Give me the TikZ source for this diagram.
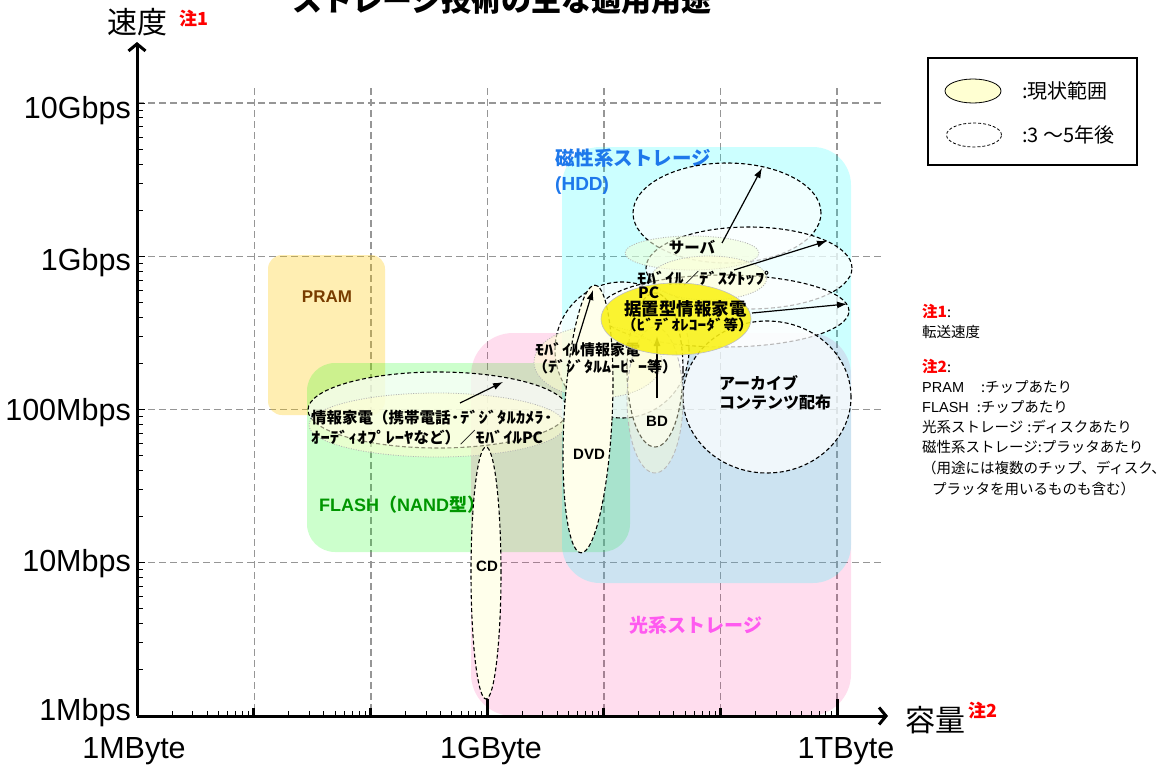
\documentclass[tikz,border=0pt]{standalone}
\usepackage{fontspec}
\setmainfont{Liberation Sans}
\newfontfamily\jp{Noto Sans CJK JP}
\newfontfamily\jph[FakeStretch=1.2]{Noto Sans CJK JP}
\newcommand\hk[1]{{\jph #1}}
\usetikzlibrary{shapes.geometric,arrows.meta}
\definecolor{pramc}{RGB}{255,200,0}
\definecolor{flashc}{RGB}{0,255,0}
\definecolor{optc}{RGB}{255,0,128}
\definecolor{hddc}{RGB}{0,255,255}
\definecolor{ivoryc}{RGB}{255,255,210}
\definecolor{discc}{RGB}{255,255,235}
\definecolor{yelc}{RGB}{250,242,20}
\definecolor{gridc}{RGB}{150,150,150}
\definecolor{hddtxt}{RGB}{30,120,235}
\definecolor{opttxt}{RGB}{255,90,240}
\definecolor{flashtxt}{RGB}{0,150,0}
\definecolor{pramtxt}{RGB}{120,60,0}
\definecolor{notered}{RGB}{255,0,0}
\begin{document}
\begin{tikzpicture}[x=1pt,y=-1pt,
  gridline/.style={draw=gridc, line width=1.1pt, dash pattern=on 7pt off 4pt},
  region/.style={rectangle, inner sep=0, draw=none},
  fut/.style={ellipse, inner sep=0, draw=black, line width=1.1pt, dash pattern=on 4pt off 2.5pt, fill=white, fill opacity=0.72},
  cur/.style={ellipse, inner sep=0, draw=gray!60, line width=0.8pt, dash pattern=on 1pt off 1.5pt, fill=ivoryc, fill opacity=0.55},
  disc/.style={ellipse, inner sep=0, draw=black, line width=1.1pt, dash pattern=on 4pt off 2.5pt, fill=discc},
  conn/.style={draw=black, line width=1.2pt, -{Latex[length=10pt,width=7pt]}},
  lab/.style={font=\jp\bfseries\fontsize{15.5}{17}\selectfont, inner sep=0, anchor=base west},
  lat/.style={font=\bfseries\fontsize{15}{17}\selectfont, inner sep=0, anchor=base},
  axl/.style={font=\fontsize{30.5}{33}\selectfont, inner sep=0},
  note/.style={font=\fontsize{14.5}{17}\selectfont, inner sep=0, anchor=base west},
  legt/.style={font=\jp\fontsize{20}{22}\selectfont, inner sep=0, anchor=base west},
  minort/.style={draw=black, line width=0.9pt},
  majort/.style={draw=black, line width=3pt}
]
\useasboundingbox (0,0) rectangle (1175,771);
\fill[white] (0,0) rectangle (1175,771);

% ---------- grid ----------
\foreach \yy in {103,256.25,409.5,562.75} \draw[gridline] (137,\yy) -- (882,\yy);
\foreach \xx in {254.5,371,487.5,604,720.5,837} \draw[gridline] (\xx,88) -- (\xx,716);

% ---------- regions ----------
\node[region, fill=pramc, fill opacity=0.3, rounded corners=14pt, minimum width=117pt, minimum height=160pt] (pram) at (326.5,335) {};
\node[region, fill=flashc, fill opacity=0.2, rounded corners=28pt, minimum width=323pt, minimum height=189pt] (flash) at (468.5,457.5) {};
\node[region, fill=optc, fill opacity=0.133, rounded corners=42pt, minimum width=380pt, minimum height=383pt] (opt) at (661,524.5) {};
\node[region, fill=hddc, fill opacity=0.2, rounded corners=38pt, minimum width=289pt, minimum height=436pt] (hdd) at (706.5,365) {};

\node[font=\bfseries\fontsize{17}{19}\selectfont, text=pramtxt, inner sep=0, anchor=base] (lpram) at (327,302) {PRAM};
\node[font=\bfseries\fontsize{18}{20}\selectfont, text=flashtxt, inner sep=0, anchor=base west] (lflash) at (319,511) {FLASH{\jp （}NAND{\jp 型）}};
\node[font=\jp\bfseries\fontsize{19}{21}\selectfont, text=opttxt, inner sep=0, anchor=base] (lopt) at (696,632) {光系ストレージ};
\node[font=\jp\bfseries\fontsize{19.5}{21}\selectfont, text=hddtxt, inner sep=0, anchor=base west] (lhdd1) at (555,165) {磁性系ストレージ};
\node[font=\bfseries\fontsize{19}{21}\selectfont, text=hddtxt, inner sep=0, anchor=base west] (lhdd2) at (555,190) {(HDD)};

% ---------- future (3-5 years) ellipses ----------
\node[fut, minimum width=260pt, minimum height=76pt] (fInfo) at (438,410) {};
\node[fut, minimum width=134pt, minimum height=136pt] (fMobInfo) at (622,350) {};
\node[fut, minimum width=188pt, minimum height=100pt] (fServer) at (727,213) {};
\node[fut, minimum width=206pt, minimum height=82pt] (fMobPC) at (749,268) {};
\node[fut, minimum width=250pt, minimum height=72pt] (fStat) at (724,311) {};
\node[fut, minimum width=168pt, minimum height=152pt] (fArch) at (767,397) {};
\node[fut, minimum width=56pt, minimum height=154pt] (fBD) at (655,370) {};

% ---------- current ellipses ----------
\node[cur, fill={rgb,255:red,240;green,255;blue,215}, minimum width=134pt, minimum height=34pt] (cServer) at (692,253) {};
\node[cur, minimum width=116pt, minimum height=44pt] (cMobPC) at (709,278) {};
\node[cur, minimum width=128pt, minimum height=72pt] (cMobInfo) at (598,362) {};
\node[cur, minimum width=256pt, minimum height=64pt] (cInfo) at (437,425) {};
\node[ellipse, inner sep=0, draw=gray!55, line width=0.9pt, dash pattern=on 4pt off 2.5pt, fill=ivoryc, fill opacity=0.4, minimum width=56pt, minimum height=146pt] (cBD) at (655,400) {};
\node[disc, minimum width=30pt, minimum height=252pt] (cCD) at (486,573) {};
\node[disc, rotate=-3, minimum width=48pt, minimum height=268pt] (cDVD) at (588,419) {};

% ---------- arrows ----------
\coordinate (aInfoS) at (460,403); \coordinate (aInfoE) at (503,382);
\coordinate (aMobInfoS) at (574,352); \coordinate (aMobInfoE) at (593,290);
\coordinate (aBDS) at (657,398); \coordinate (aBDE) at (657,336);
\coordinate (aMobPCS) at (734,270); \coordinate (aMobPCE) at (827,241);
\coordinate (aServerS) at (722,243); \coordinate (aServerE) at (762,168);
\coordinate (aStatS) at (752,313); \coordinate (aStatE) at (847,304);
\draw[conn] (aInfoS) -- (aInfoE);
\draw[conn] (aMobInfoS) -- (aMobInfoE);
\draw[conn] (aBDS) -- (aBDE);
\draw[conn] (aMobPCS) -- (aMobPCE);
\draw[conn] (aServerS) -- (aServerE);

% ---------- labels ----------
\node[lab, anchor=base] (lServer) at (692,253) {サーバ};
\node[lab] (lMobPC1) at (637,284) {\hk{ﾓﾊﾞｲﾙ}／\hk{ﾃﾞｽｸﾄｯﾌﾟ}};
\node[lab, font=\jp\bfseries\fontsize{15}{17}\selectfont] (lMobInfo1) at (535,355) {\hk{ﾓﾊﾞｲﾙ}情報家電};
\node[lab, font=\jp\bfseries\fontsize{15}{17}\selectfont] (lMobInfo2) at (533,372) {（\hk{ﾃﾞｼﾞﾀﾙﾑｰﾋﾞｰ}等）};
\node[lab] (lInfo1) at (311,423) {情報家電（携帯電話\hk{･ﾃﾞｼﾞﾀﾙｶﾒﾗ･}};
\node[lab] (lInfo2) at (311,443) {\hk{ｵｰﾃﾞｨｵﾌﾟﾚｰﾔ}など）／\hk{ﾓﾊﾞｲﾙ}PC};
\node[lab, font=\jp\bfseries\fontsize{16}{18}\selectfont] (lArch1) at (719,389) {アーカイブ};
\node[lab, font=\jp\bfseries\fontsize{16}{18}\selectfont] (lArch2) at (719,408) {コンテンツ配布};
\node[lat] (lBD) at (657,426) {BD};
\node[lat] (lDVD) at (589,459) {DVD};
\node[lat] (lCD) at (487,571) {CD};

% yellow current ellipse (stationary info appliances)
\node[ellipse, inner sep=0, draw=gray!50, line width=0.6pt, fill=yelc, fill opacity=0.88, minimum width=150pt, minimum height=72pt] (cStat) at (676,319) {};
\draw[conn] (aStatS) -- (aStatE);
\node[lab] (lMobPC2) at (638,298) {PC};
\node[lab, font=\jp\bfseries\fontsize{17.5}{19}\selectfont] (lStat1) at (624,315) {据置型情報家電};
\node[lab, font=\jp\bfseries\fontsize{14.5}{17}\selectfont] (lStat2) at (622,330) {（\hk{ﾋﾞﾃﾞｵﾚｺｰﾀﾞ}等）};

% ---------- axes ----------
\coordinate (O) at (137,716);
\coordinate (Xend) at (888,716);
\coordinate (Yend) at (137,42);
\foreach \d in {0,...,5}
  \foreach \k in {2,...,9}
    \draw[minort] ({137+116.67*(\d+log10(\k))},716) -- ++(0,-5);
\foreach \d in {0,...,3}
  \foreach \k in {2,...,9}
    \draw[minort] (137,{716-153.25*(\d+log10(\k))}) -- ++(6,0);
\foreach \d in {1,2,4,5} \draw[majort] ({137+116.67*\d},716) -- ++(0,-8);
\foreach \d in {3,6} \draw[majort] ({137+116.67*\d},716) -- ++(0,-17);
\foreach \d in {1,2,3,4} \draw[minort] (137,{716-153.25*\d}) -- ++(8,0);
\draw[line width=3pt, -{Straight Barb[length=7pt,width=17pt]}] (O) -- (Xend);
\draw[line width=3pt, -{Straight Barb[length=7pt,width=17pt]}] (O) -- (Yend);

\node[axl, anchor=base east] (y10G) at (131,118) {10Gbps};
\node[axl, anchor=base east] (y1G) at (131,270) {1Gbps};
\node[axl, anchor=base east] (y100M) at (131,420) {100Mbps};
\node[axl, anchor=base east] (y10M) at (131,571) {10Mbps};
\node[axl, anchor=base east] (y1M) at (131,720) {1Mbps};
\node[axl, anchor=base] (x1M) at (134,758) {1MByte};
\node[axl, anchor=base] (x1G) at (491,758) {1GByte};
\node[axl, anchor=base] (x1T) at (846,758) {1TByte};

\node[font=\jp\fontsize{30}{32}\selectfont, inner sep=0, anchor=base west] (ylab) at (107,33) {速度};
\node[font=\jp\bfseries\fontsize{18}{20}\selectfont, text=notered, inner sep=0, anchor=base west] (ynote) at (179,25) {注1};
\node[font=\jp\fontsize{30}{32}\selectfont, inner sep=0, anchor=base west] (xlab) at (905,731) {容量};
\node[font=\jp\bfseries\fontsize{18}{20}\selectfont, text=notered, inner sep=0, anchor=base west] (xnote) at (968,717) {注2};

% ---------- title (cut at top) ----------
\node[font=\jp\bfseries\fontsize{30}{32}\selectfont, inner sep=0, anchor=base] (title) at (502,11) {ストレージ技術の主な適用用途};

% ---------- legend ----------
\node[rectangle, draw=black, line width=2pt, inner sep=0, minimum width=209pt, minimum height=107pt] (legbox) at (1032.5,111.5) {};
\node[ellipse, inner sep=0, draw=black, line width=0.8pt, fill=ivoryc, minimum width=56pt, minimum height=24pt] (legcur) at (973,91) {};
\node[ellipse, inner sep=0, draw=black, line width=0.8pt, dash pattern=on 3pt off 2pt, fill=white, minimum width=55pt, minimum height=24pt] (legfut) at (974,135) {};
\node[legt] (legcurt) at (1022,98) {:現状範囲};
\node[legt] (legfutt) at (1022,142) {:3 ～5年後};

% ---------- notes ----------
\node[note] (n1) at (922,317.5) {{\jp\bfseries\color{notered}\fontsize{15.5}{17}\selectfont 注1}{\jp :}};
\node[note] (n2) at (922,337.5) {{\jp 転送速度}};
\node[note] (n3) at (922,372.5) {{\jp\bfseries\color{notered}\fontsize{15.5}{17}\selectfont 注2}{\jp :}};
\node[note] (n4) at (922,392.5) {PRAM\hspace{17pt}{\jp :チップあたり}};
\node[note] (n5) at (922,412.5) {FLASH\hspace{8pt}{\jp :チップあたり}};
\node[note] (n6) at (922,432.5) {{\jp 光系ストレージ\hspace{4pt}:ディスクあたり}};
\node[note] (n7) at (922,452.5) {{\jp 磁性系ストレージ:プラッタあたり}};
\node[note] (n8) at (922,473.5) {{\jp （用途には複数のチップ、ディスク、}};
\node[note] (n9) at (922,494.5) {\hspace{10pt}{\jp プラッタを用いるものも含む）}};
\end{tikzpicture}
\end{document}
